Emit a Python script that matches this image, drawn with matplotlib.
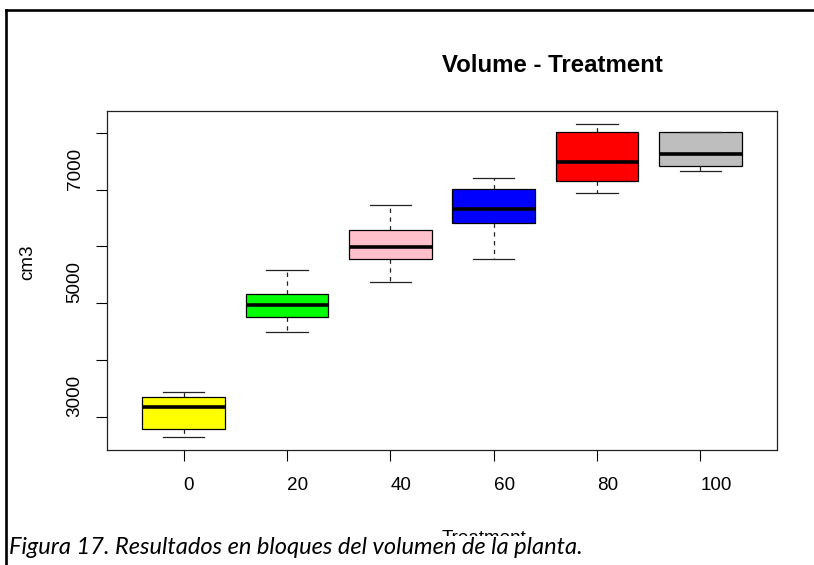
import matplotlib
matplotlib.use("Agg")
import matplotlib.pyplot as plt
from matplotlib.lines import Line2D
from matplotlib.patches import Rectangle

# volume per treatment level (cm3): whisker ends, quartiles, median
treatments = ["0", "20", "40", "60", "80", "100"]
whisker_low = [2636, 4489, 5365, 5783, 6942, 7323]
q1 = [2783, 4754, 5777, 6406, 7142, 7412]
medians = [3171, 4959, 5986, 6653, 7477, 7618]
q3 = [3353, 5160, 6295, 7006, 8012, 8012]
whisker_high = [3436, 5576, 6723, 7209, 8161, 8012]
box_colors = ["#FFFF00", "#00FF00", "#FFC0CB", "#0000FF", "#FF0000", "#BEBEBE"]

y_ticks = [3000, 4000, 5000, 6000, 7000, 8000]
y_tick_labels = ["3000", "", "5000", "", "7000", ""]

W, H = 814, 565
fig = plt.figure(figsize=(W / 100, H / 100), dpi=100)
plt.rcParams["font.family"] = ["Liberation Sans", "DejaVu Sans"]


def fx(px):
    return px / W


def fy(py):
    return 1 - py / H


ax = fig.add_axes([fx(107), fy(450), fx(777) - fx(107), fy(111) - fy(450)])

stats = []
for i in range(len(treatments)):
    stats.append(dict(whislo=whisker_low[i], q1=q1[i], med=medians[i],
                      q3=q3[i], whishi=whisker_high[i], fliers=[]))

positions = list(range(1, len(treatments) + 1))
bp = ax.bxp(stats, positions=positions, widths=0.8, patch_artist=True,
            showfliers=False,
            boxprops=dict(edgecolor="black", linewidth=0.9),
            medianprops=dict(color="black", linewidth=2.6, solid_capstyle="butt"),
            whiskerprops=dict(color="#222222", linewidth=0.9, dashes=(3.5, 3.5)),
            capprops=dict(color="#222222", linewidth=0.9))
for patch, c in zip(bp["boxes"], box_colors):
    patch.set_facecolor(c)
for cap in bp["caps"]:
    x0, x1 = cap.get_xdata()
    mid = (x0 + x1) / 2
    cap.set_xdata([mid - 0.2, mid + 0.2])

# R-style extended limits
lo, hi = min(whisker_low), max(whisker_high)
pad = 0.04 * (hi - lo)
ax.set_ylim(lo - pad, hi + pad)
ax.set_xlim(0.5 - 0.24, 6.5 + 0.24)

for s in ax.spines.values():
    s.set_linewidth(0.9)
    s.set_color("#222222")

ax.set_xticks(positions, treatments)
ax.set_yticks(y_ticks, y_tick_labels)
ax.tick_params(axis="x", length=7.9, width=0.8, pad=11.5, labelsize=13.6)
ax.tick_params(axis="y", length=7.9, width=0.8, pad=15.0, labelsize=13.6)
for lab in ax.get_xticklabels():
    lab.set_ha("left")
for lab in ax.get_yticklabels():
    lab.set_rotation(90)
    lab.set_va("bottom")
    lab.set_ha("center")

# titles and axis labels
fig.text(fx(442), fy(72), "Volume - Treatment", ha="left", va="baseline",
         fontsize=17.3, fontweight="bold")
fig.text(fx(27.5), fy(280.5), "cm3", rotation=90, ha="center", va="bottom",
         fontsize=13.6)
fig.text(fx(442), fy(543), "Treatment", ha="left", va="baseline",
         fontsize=13.6, zorder=1)

# outer frame
fig.add_artist(Line2D([fx(6), fx(6)], [fy(10), fy(565)], color="black",
                      linewidth=1.9, transform=fig.transFigure))
fig.add_artist(Line2D([fx(6), fx(814)], [fy(10), fy(10)], color="black",
                      linewidth=1.9, transform=fig.transFigure))

# caption strip
fig.add_artist(Rectangle((fx(8), 0), 1 - fx(8), fy(536), facecolor="white",
                         edgecolor="none", transform=fig.transFigure, zorder=2))
fig.text(fx(9), fy(554), "Figura 17. Resultados en bloques del volumen de la planta.",
         ha="left", va="baseline", fontsize=17, style="italic",
         family=["Lato", "DejaVu Sans"], zorder=3)

fig.savefig("out.png", dpi=100)
